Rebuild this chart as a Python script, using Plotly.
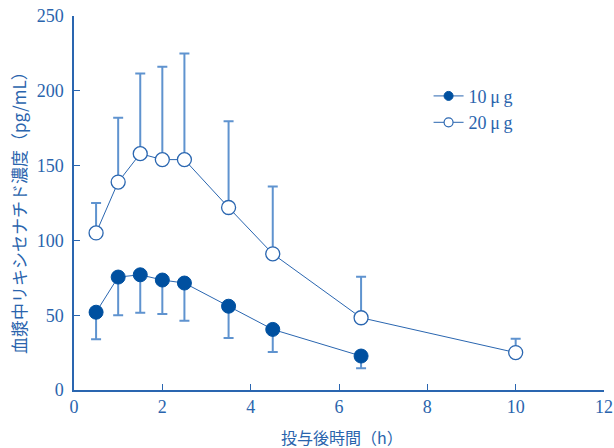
import plotly.graph_objects as go

time_10 = [0.5, 1, 1.5, 2, 2.5, 3.5, 4.5, 6.5]
mean_10 = [52, 75.5, 77, 73.5, 71.5, 56, 40.5, 22.7]
sd_10 = [18, 25.5, 25.3, 22.7, 25.2, 21.3, 15.1, 8.2]

time_20 = [0.5, 1, 1.5, 2, 2.5, 3.5, 4.5, 6.5, 10]
mean_20 = [105, 139, 158, 154, 154, 122, 91, 48.3, 25]
sd_20 = [20, 43, 53.5, 62, 71, 57.6, 45, 27.4, 9.3]

labels = ["10\u2009\u03bc\u2009g", "20\u2009\u03bc\u2009g"]
x_ticks = [0, 2, 4, 6, 8, 10, 12]
y_ticks = [0, 50, 100, 150, 200, 250]
x_title = "投与後時間（h）"
y_title = "血漿中リキシセナチド濃度（pg/mL）"

DARK = "#0050a0"
LINE = "#2a66b0"
ERR = "#5f93cf"
TEXT = "#2a64ad"
FONT = "Liberation Serif, Noto Sans CJK JP, serif"
CJK = "Noto Sans CJK JP"

fig = go.Figure()

fig.add_trace(go.Scatter(
    x=time_20, y=mean_20, mode="lines+markers", showlegend=False,
    line=dict(color=LINE, width=1),
    marker=dict(size=14, color="white", line=dict(color=LINE, width=1.3)),
    error_y=dict(type="data", symmetric=False, array=sd_20,
                 arrayminus=[0] * len(sd_20), color=ERR, thickness=2, width=5),
))
fig.add_trace(go.Scatter(
    x=time_10, y=mean_10, mode="lines+markers", showlegend=False,
    line=dict(color=LINE, width=1),
    marker=dict(size=14, color=DARK, line=dict(color=DARK, width=1)),
    error_y=dict(type="data", symmetric=False, array=[0] * len(sd_10),
                 arrayminus=sd_10, color=ERR, thickness=2, width=5),
))

# legend-only entries
fig.add_trace(go.Scatter(
    x=[None], y=[None], mode="lines+markers", name=labels[0],
    line=dict(color=LINE, width=1),
    marker=dict(size=9, color=DARK, line=dict(color=DARK, width=1)),
))
fig.add_trace(go.Scatter(
    x=[None], y=[None], mode="lines+markers", name=labels[1],
    line=dict(color=LINE, width=1),
    marker=dict(size=9, color="white", line=dict(color=LINE, width=1.2)),
))

fig.update_layout(
    width=614, height=448,
    margin=dict(l=74, r=10, t=16, b=58, autoexpand=False),
    plot_bgcolor="white", paper_bgcolor="white",
    font=dict(family=FONT, color=TEXT, size=16),
    legend=dict(x=0.669, y=0.835, xanchor="left", yanchor="top",
                bgcolor="rgba(0,0,0,0)", font=dict(size=18, family=FONT, color=TEXT),
                tracegroupgap=0, itemwidth=30),
    annotations=[
        dict(text=x_title, xref="paper", yref="paper", x=0.505, y=-0.125,
             xanchor="center", yanchor="middle", showarrow=False,
             font=dict(size=16, family=CJK, color=TEXT)),
        dict(text=y_title, xref="paper", yref="paper", x=-0.105, y=0.485,
             xanchor="center", yanchor="middle", showarrow=False, textangle=-90,
             font=dict(size=17, family=CJK, color=TEXT)),
    ],
)
fig.update_xaxes(
    range=[0, 12], tickvals=x_ticks, ticktext=[str(v) for v in x_ticks],
    showgrid=False, zeroline=False, showline=True, linecolor=LINE, linewidth=1.5,
    ticks="inside", ticklen=6, tickcolor=LINE, tickwidth=1, automargin=False,
    tickfont=dict(size=18, family=FONT, color=TEXT),
)
fig.update_yaxes(
    range=[0, 250], tickvals=y_ticks, ticktext=[str(v) for v in y_ticks],
    showgrid=False, zeroline=False, showline=True, linecolor=LINE, linewidth=1.5,
    ticks="inside", ticklen=6, tickcolor=LINE, tickwidth=1, automargin=False,
    ticklabelstandoff=5,
    tickfont=dict(size=18, family=FONT, color=TEXT),
)

fig.write_html("out.html", config={"displayModeBar": False},
               post_script="document.body.style.margin='0px';")
